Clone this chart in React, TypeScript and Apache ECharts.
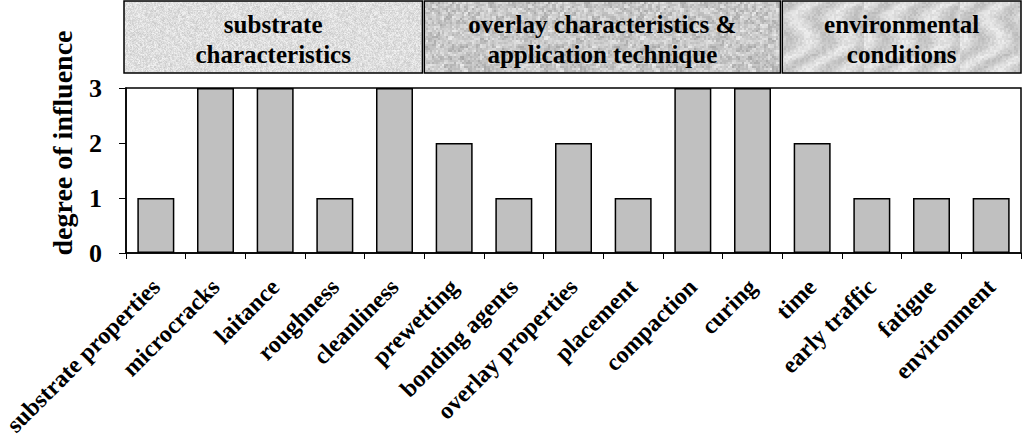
import React, { useEffect, useRef } from "react";
import * as echarts from "echarts";

const categories = [
  "substrate properties",
  "microcracks",
  "laitance",
  "roughness",
  "cleanliness",
  "prewetting",
  "bonding agents",
  "overlay properties",
  "placement",
  "compaction",
  "curing",
  "time",
  "early traffic",
  "fatigue",
  "environment",
];
const influence = [1, 3, 3, 1, 3, 2, 1, 2, 1, 3, 3, 2, 1, 1, 1];
const yTicks = [0, 1, 2, 3];
const groupLabels = [
  "substrate\ncharacteristics",
  "overlay characteristics &\napplication technique",
  "environmental\nconditions",
];
const groupSpans = [
  [0, 5],
  [5, 11],
  [11, 15],
];

const FONT = "'Liberation Serif', 'Times New Roman', serif";

// deterministic hash noise for decorative textures (not data)
function hash(x: number, y: number, s: number) {
  let h = (x * 374761393 + y * 668265263 + s * 982451653) | 0;
  h = Math.imul(h ^ (h >>> 13), 1274126177);
  h = h ^ (h >>> 16);
  return ((h >>> 0) % 1000) / 1000;
}

function makeTexture(kind: number): string | null {
  try {
    const size = 96;
    const c = document.createElement("canvas");
    c.width = size;
    c.height = size;
    const ctx = c.getContext("2d");
    if (!ctx) return null;
    const img = ctx.createImageData(size, size);
    for (let y = 0; y < size; y++) {
      for (let x = 0; x < size; x++) {
        let v: number;
        if (kind === 0) {
          const n = hash(x, y, 1) * 0.6 + hash(x >> 1, y >> 1, 2) * 0.4;
          v = 200 + n * 45;
        } else if (kind === 1) {
          const n = hash(x >> 1, y >> 1, 3) * 0.5 + hash(x >> 2, y >> 2, 4) * 0.5;
          v = 165 + n * 70;
        } else {
          const streak = Math.sin((x * 0.9 + y * 0.45) * 0.18 + Math.sin(y * 0.11) * 2.2);
          const n = hash(x >> 1, y >> 1, 5);
          v = 212 + streak * 16 + (n - 0.5) * 22;
        }
        v = Math.max(0, Math.min(255, v));
        const i = (y * size + x) * 4;
        img.data[i] = v;
        img.data[i + 1] = v;
        img.data[i + 2] = v;
        img.data[i + 3] = 255;
      }
    }
    ctx.putImageData(img, 0, 0);
    return c.toDataURL();
  } catch (e) {
    return null;
  }
}

export default function App() {
  const ref = useRef<HTMLDivElement>(null);
  useEffect(() => {
    if (!ref.current) return;
    const chart = echarts.init(ref.current, null, { renderer: "svg" });
    const gridLeft = 126;
    const gridRight = 3;
    const width = 1024;
    const plotW = width - gridLeft - gridRight;
    const catW = plotW / categories.length;
    const solid = ["#dadada", "#c4c4c4", "#d4d4d4"];
    const headerGraphics: any[] = [];
    groupSpans.forEach((span, i) => {
      const x0 = gridLeft + span[0] * catW - (i === 0 ? 2 : 0);
      const x1 = gridLeft + span[1] * catW - (i === 2 ? 0 : 2);
      const tex = makeTexture(i);
      headerGraphics.push({
        type: "rect",
        shape: { x: x0, y: 1, width: x1 - x0, height: 72 },
        style: { fill: solid[i], stroke: "#000", lineWidth: 1.5 },
      });
      if (tex) {
        headerGraphics.push({
          type: "rect",
          shape: { x: x0 + 1, y: 2, width: x1 - x0 - 2, height: 70 },
          style: { fill: { image: tex, repeat: "repeat" } },
        });
      }
      headerGraphics.push({
        type: "text",
        x: (x0 + x1) / 2,
        y: 39,
        style: {
          text: groupLabels[i],
          font: `bold 25px ${FONT}`,
          fill: "#000",
          textAlign: "center",
          textVerticalAlign: "middle",
          lineHeight: 30,
        },
      });
    });
    headerGraphics.push({
      type: "text",
      x: 62,
      y: 143,
      rotation: Math.PI / 2,
      style: {
        text: "degree of influence",
        font: `bold 28px ${FONT}`,
        fill: "#000",
        textAlign: "center",
        textVerticalAlign: "middle",
      },
    });

    chart.setOption({
      animation: false,
      backgroundColor: "#fff",
      grid: {
        left: gridLeft,
        right: gridRight,
        top: 88,
        bottom: 194,
        containLabel: false,
        outerBoundsMode: "none",
        show: true,
        borderColor: "#000",
        borderWidth: 1.5,
        backgroundColor: "transparent",
      },
      xAxis: {
        type: "category",
        data: categories,
        boundaryGap: true,
        axisLine: { show: true, lineStyle: { color: "#000", width: 1.5 } },
        axisTick: {
          show: true,
          interval: 0,
          alignWithLabel: false,
          length: 6,
          lineStyle: { color: "#000", width: 1 },
        },
        axisLabel: {
          interval: 0,
          rotate: 45,
          margin: 30,
          color: "#000",
          fontFamily: FONT,
          fontWeight: "bold",
          fontSize: 24,
        },
      },
      yAxis: {
        type: "value",
        min: yTicks[0],
        max: yTicks[yTicks.length - 1],
        interval: 1,
        splitLine: { show: false },
        axisLine: { show: true, lineStyle: { color: "#000", width: 1.5 } },
        axisTick: { show: true, length: 7, lineStyle: { color: "#000", width: 1 } },
        axisLabel: {
          margin: 24,
          color: "#000",
          fontFamily: FONT,
          fontWeight: "bold",
          fontSize: 26,
        },
      },
      series: [
        {
          type: "bar",
          data: influence,
          barWidth: "62%",
          itemStyle: { color: "#c0c0c0", borderColor: "#000", borderWidth: 1.5 },
        },
      ],
      graphic: headerGraphics,
    });
    return () => chart.dispose();
  }, []);
  return <div ref={ref} style={{ width: 1024, height: 447, position: "absolute", left: 0, top: 0 }} />;
}
